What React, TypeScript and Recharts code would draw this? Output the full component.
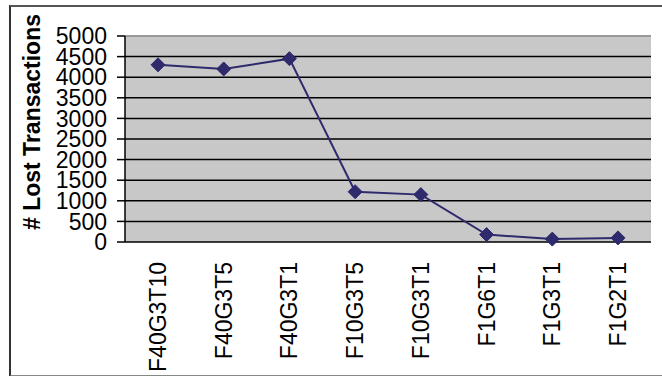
import { LineChart, Line, XAxis, YAxis, CartesianGrid, ReferenceLine } from 'recharts'

const runs = ['F40G3T10', 'F40G3T5', 'F40G3T1', 'F10G3T5', 'F10G3T1', 'F1G6T1', 'F1G3T1', 'F1G2T1']
const lost = [4300, 4200, 4450, 1220, 1150, 180, 70, 100]
const yTicks = [0, 500, 1000, 1500, 2000, 2500, 3000, 3500, 4000, 4500, 5000]
const edgeTicks = [0, 1, 2, 3, 4, 5, 6, 7, 8]

const data = runs.map((run, i) => ({ run, lost: lost[i] }))

const FONT = '"Liberation Sans", Arial, sans-serif'
const NAVY = '#2e2a6c'

function Diamond(props: any) {
  const { cx, cy } = props
  if (cx == null || cy == null) return null
  const r = 7
  return (
    <polygon
      points={`${cx},${cy - r} ${cx + r},${cy} ${cx},${cy + r} ${cx - r},${cy}`}
      fill={NAVY}
      stroke={NAVY}
    />
  )
}

function RunTick(props: any) {
  const { x, y, payload } = props
  return (
    <text
      x={x}
      y={y}
      transform={`rotate(-90 ${x} ${y})`}
      textAnchor="end"
      dy="0.35em"
      fontSize={23}
      fontFamily={FONT}
      fill="#000"
    >
      {payload.value}
    </text>
  )
}

export default function App() {
  return (
    <div style={{ position: 'fixed', left: 0, top: 0, width: 662, height: 376, overflow: 'hidden', background: '#fff' }}>
      <div
        style={{
          position: 'absolute',
          left: 9,
          top: 5,
          width: 700,
          height: 368,
          borderLeft: '2px solid #333',
          borderTop: '2px solid #555',
          borderBottom: '2px solid #888',
        }}
      />
      <div style={{ position: 'absolute', left: 0, top: 0 }}>
        <LineChart width={662} height={376} data={data} margin={{ top: 36, right: 11, left: 0, bottom: 0 }}>
          <CartesianGrid vertical={false} stroke="#000" strokeWidth={1.5} fill="#c8c8c8" />
          <XAxis
            xAxisId="edge"
            type="number"
            domain={[0, 8]}
            ticks={edgeTicks}
            tick={false}
            height={0}
            stroke="#000"
            strokeWidth={1.5}
            tickSize={8}
            allowDataOverflow
          />
          {/* point scale: pad half a category on each side so points sit mid-slot */}
          <XAxis
            xAxisId="cat"
            dataKey="run"
            height={134}
            axisLine={false}
            tickLine={false}
            tickSize={0}
            tickMargin={20}
            interval={0}
            padding={{ left: 33, right: 33 }}
            tick={<RunTick />}
          />
          <YAxis
            domain={[0, 5000]}
            ticks={yTicks}
            width={125}
            interval={0}
            stroke="#000"
            strokeWidth={1.5}
            tickSize={8}
            tickMargin={10}
            tick={{ fill: '#000', fontSize: 23, fontFamily: FONT }}
            label={{
              content: () => (
                <text
                  x={40}
                  y={122}
                  transform="rotate(-90 40 122)"
                  textAnchor="middle"
                  fontSize={23}
                  fontWeight="bold"
                  fontFamily={FONT}
                  fill="#000"
                >
                  # Lost Transactions
                </text>
              ),
            }}
          />
          <ReferenceLine y={5000} xAxisId="cat" stroke="#999" strokeWidth={2} />
          <ReferenceLine x={8} xAxisId="edge" stroke="#999" strokeWidth={2} />
          <Line
            xAxisId="cat"
            dataKey="lost"
            stroke={NAVY}
            strokeWidth={2}
            dot={<Diamond />}
            activeDot={false}
            isAnimationActive={false}
          />
        </LineChart>
      </div>
    </div>
  )
}
